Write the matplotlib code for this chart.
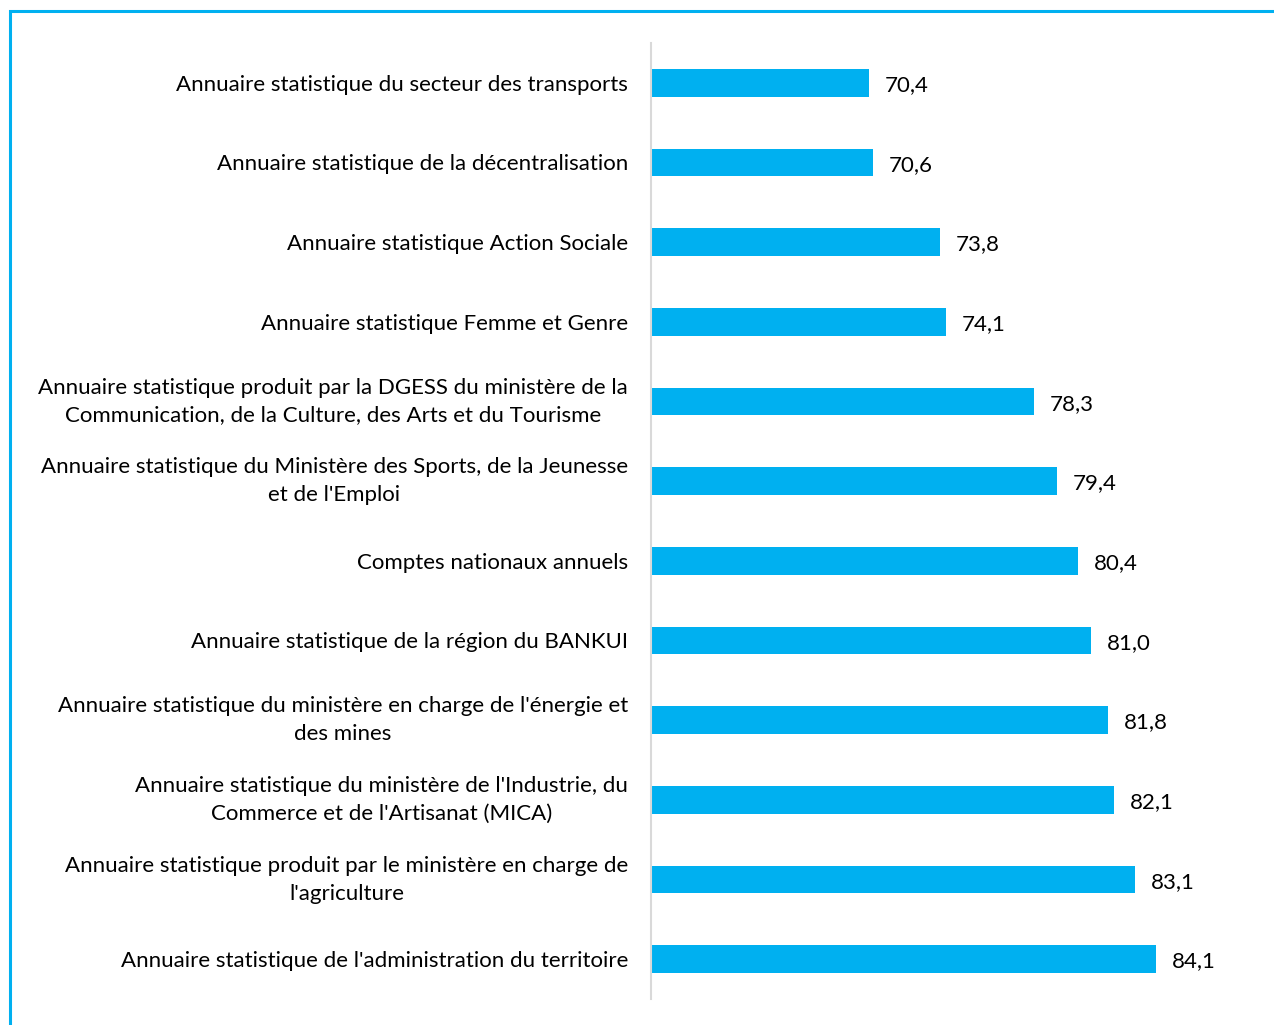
import matplotlib
matplotlib.use("Agg")
import matplotlib.pyplot as plt
from matplotlib.patches import Rectangle

categories = [
    "Annuaire statistique du secteur des transports",
    "Annuaire statistique de la décentralisation",
    "Annuaire statistique Action Sociale",
    "Annuaire statistique Femme et Genre",
    "Annuaire statistique produit par la DGESS du ministère de la\nCommunication, de la Culture, des Arts et du Tourisme",
    "Annuaire statistique du Ministère des Sports, de la Jeunesse\net de l'Emploi",
    "Comptes nationaux annuels",
    "Annuaire statistique de la région du BANKUI",
    "Annuaire statistique du ministère en charge de l'énergie et\ndes mines",
    "Annuaire statistique du ministère de l'Industrie, du\nCommerce et de l'Artisanat (MICA)",
    "Annuaire statistique produit par le ministère en charge de\nl'agriculture",
    "Annuaire statistique de l'administration du territoire",
]
values = [70.4, 70.6, 73.8, 74.1, 78.3, 79.4, 80.4, 81.0, 81.8, 82.1, 83.1, 84.1]

W, H = 1274, 1025
fig = plt.figure(figsize=(W / 100, H / 100), dpi=100)
plt.rcParams['font.family'] = ['Lato', 'DejaVu Sans']

# outer frame
fig.patches.append(Rectangle((10 / W, -0.01), 1.0, (H - 10) / H + 0.01 - 1 / H,
                             transform=fig.transFigure, fill=False,
                             edgecolor='#00B0F0', linewidth=2.2))

left, right = 651, 1274
top, bottom = 43, 999
ax = fig.add_axes([left / W, 1 - bottom / H, (right - left) / W, (bottom - top) / H])

n = len(categories)
ypos = list(range(n))
ax.barh(ypos, values, height=0.35, color='#00B0F0', left=0)
ax.set_xlim(60, 60 + (right - left) / 20.95)
ax.set_ylim(n - 0.5, -0.5)

for y, v in zip(ypos, values):
    ax.text(v + 0.75, y + 0.03, f"{v:.1f}".replace('.', ','), va='center', ha='left',
            fontsize=16, color='black')

ax.set_yticks(ypos)
ax.set_yticklabels(categories, fontsize=16, linespacing=1.5)
for t in ax.get_yticklabels():
    t.set_multialignment('center')
    if '\n' in t.get_text():
        t.set_verticalalignment('center')
ax.tick_params(axis='y', length=0, pad=16.5)
ax.set_xticks([])
for s in ['top', 'right', 'bottom']:
    ax.spines[s].set_visible(False)
ax.spines['left'].set_color('#D9D9D9')
ax.spines['left'].set_linewidth(1.5)
ax.set_facecolor('none')

fig.savefig("out.png", dpi=100)
